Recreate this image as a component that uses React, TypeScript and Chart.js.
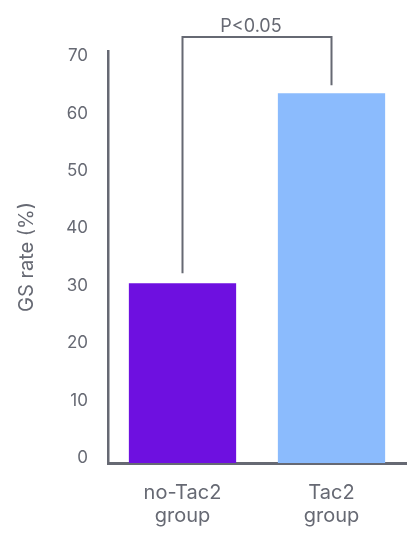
import React, { useEffect, useRef } from "react";
import { Chart, registerables } from "chart.js";

Chart.register(...registerables);

const categories: string[][] = [["no-Tac2", "group"], ["Tac2", "group"]];
const gsRate: number[] = [31.3, 64.4];
const barColors: string[] = ["#6e10e0", "#8bbbfd"];
const yTicks: number[] = [0, 10, 20, 30, 40, 50, 60, 70];
const yTitle = "GS rate (%)";
const comparisonLabel = "P<0.05";

const FONT = "Inter, 'DejaVu Sans', sans-serif";
const GRAY = "#666973";

const bracketPlugin = {
  id: "bracket",
  afterDatasetsDraw(chart: any) {
    const meta = chart.getDatasetMeta(0);
    const a = meta.data[0];
    const b = meta.data[1];
    if (!a || !b) return;
    const ctx = chart.ctx;
    const topY = chart.chartArea.top - 14;
    ctx.save();
    ctx.strokeStyle = GRAY;
    ctx.lineWidth = 2;
    ctx.beginPath();
    ctx.moveTo(a.x, a.y - 10);
    ctx.lineTo(a.x, topY);
    ctx.lineTo(b.x, topY);
    ctx.lineTo(b.x, b.y - 8);
    ctx.stroke();
    ctx.fillStyle = GRAY;
    ctx.font = `18px ${FONT}`;
    ctx.textAlign = "center";
    ctx.textBaseline = "alphabetic";
    ctx.fillText(comparisonLabel, (a.x + b.x) / 2 - 6, topY - 5);
    ctx.restore();
  },
};

export default function App() {
  const ref = useRef<HTMLCanvasElement | null>(null);
  useEffect(() => {
    if (!ref.current) return;
    const chart = new Chart(ref.current, {
      type: "bar",
      data: {
        labels: categories,
        datasets: [
          {
            data: gsRate,
            backgroundColor: barColors,
            borderWidth: 0,
            barPercentage: 0.72,
            categoryPercentage: 1,
          },
        ],
      },
      options: {
        animation: false,
        responsive: true,
        maintainAspectRatio: false,
        layout: { padding: { top: 43, right: 5, left: 0, bottom: 0 } },
        plugins: { legend: { display: false }, tooltip: { enabled: false } },
        scales: {
          x: {
            grid: { display: false, drawTicks: false },
            border: { display: true, color: GRAY, width: 3 },
            ticks: {
              color: GRAY,
              padding: 18,
              font: { family: FONT, size: 20, lineHeight: 1.15 },
            },
            afterFit: (s: any) => {
              s.height = 70;
            },
          },
          y: {
            min: 0,
            max: 71.75,
            grid: { display: false, drawTicks: false },
            border: { display: true, color: GRAY, width: 2.5 },
            afterBuildTicks: (s: any) => {
              s.ticks = yTicks.map((v) => ({ value: v }));
            },
            ticks: {
              includeBounds: false,
              stepSize: 10,
              color: GRAY,
              padding: 20,
              labelOffset: -5,
              font: { family: FONT, size: 17 },
            },
            title: {
              display: true,
              text: yTitle,
              color: GRAY,
              font: { family: FONT, size: 20 },
              padding: { top: 7, bottom: 0 },
            },
            afterFit: (s: any) => {
              s.width = 100;
            },
          },
        },
      },
      plugins: [bracketPlugin],
    });
    return () => chart.destroy();
  }, []);
  return (
    <div style={{ width: 403, height: 525, position: "relative" }}>
      <canvas ref={ref} />
    </div>
  );
}
